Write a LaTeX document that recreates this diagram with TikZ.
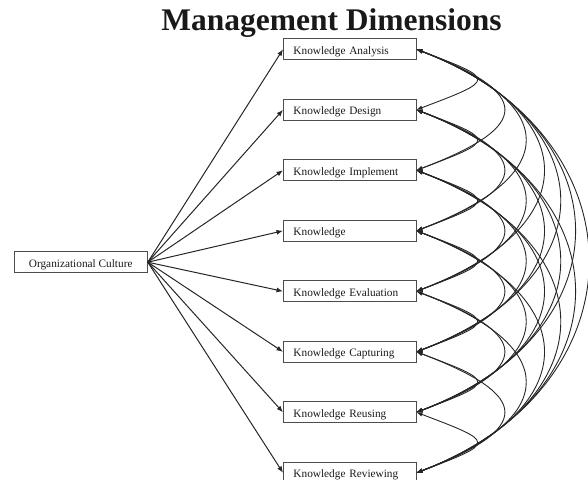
\documentclass[tikz,border=0pt]{standalone}
\usepackage{fontspec}
\setmainfont{Liberation Serif}
\usetikzlibrary{arrows.meta,calc}
\begin{document}
\begin{tikzpicture}[x=1pt,y=-1pt,
  kbox/.style={draw=black!70, line width=0.9pt, anchor=west, minimum height=21pt,
    text width=112.5pt, inner xsep=10pt, inner ysep=0pt, align=left,
    text height=10pt, text depth=0pt, font=\fontsize{11.3}{13}\selectfont, text=black!90},
  obox/.style={draw=black!70, line width=0.9pt, minimum height=21pt, minimum width=133.3pt,
    inner ysep=0pt, align=center, text height=10pt, text depth=0pt,
    font=\fontsize{11.3}{13}\selectfont, text=black!90},
  arr/.style={-{Latex[length=6.5pt,width=5pt]}, line width=1pt, draw=black!85},
  cov/.style={{Latex[length=6pt,width=4.5pt]}-{Latex[length=6pt,width=4.5pt]}, line width=0.9pt, draw=black!85}]
\useasboundingbox (0,0) rectangle (588,479);
\node[anchor=base, font=\bfseries\fontsize{31.5}{34}\selectfont, text=black!90] (title) at (331.5,30.7) {Management Dimensions};
\node[obox] (org) at (80.7,262.2) {Organizational Culture};
\node[kbox] (b1) at (283,49.3) {Knowledge Analysis};
\node[kbox] (b2) at (283,109.8) {Knowledge Design};
\node[kbox] (b3) at (283,170.3) {Knowledge Implement};
\node[kbox] (b4) at (283,230.8) {Knowledge};
\node[kbox] (b5) at (283,291.3) {Knowledge Evaluation};
\node[kbox] (b6) at (283,351.8) {Knowledge Capturing};
\node[kbox] (b7) at (283,412.3) {Knowledge Reusing};
\node[kbox] (b8) at (283,472.8) {Knowledge Reviewing};
\foreach \k in {1,...,8}{
  \draw[arr] (org.east) -- (b\k.west);
}
\foreach \i in {1,...,7}{
  \pgfmathtruncatemacro{\ii}{\i+1}
  \foreach \j in {\ii,...,8}{
    \pgfmathsetmacro{\cc}{80*(\j-\i)^0.54}
    \pgfmathsetmacro{\vv}{0.38*\cc}
    \draw[cov] (b\i.east) .. controls ($(b\i.east)+(\cc,\vv)$) and ($(b\j.east)+(\cc,-\vv)$) .. (b\j.east);
  }
}
\end{tikzpicture}
\end{document}
